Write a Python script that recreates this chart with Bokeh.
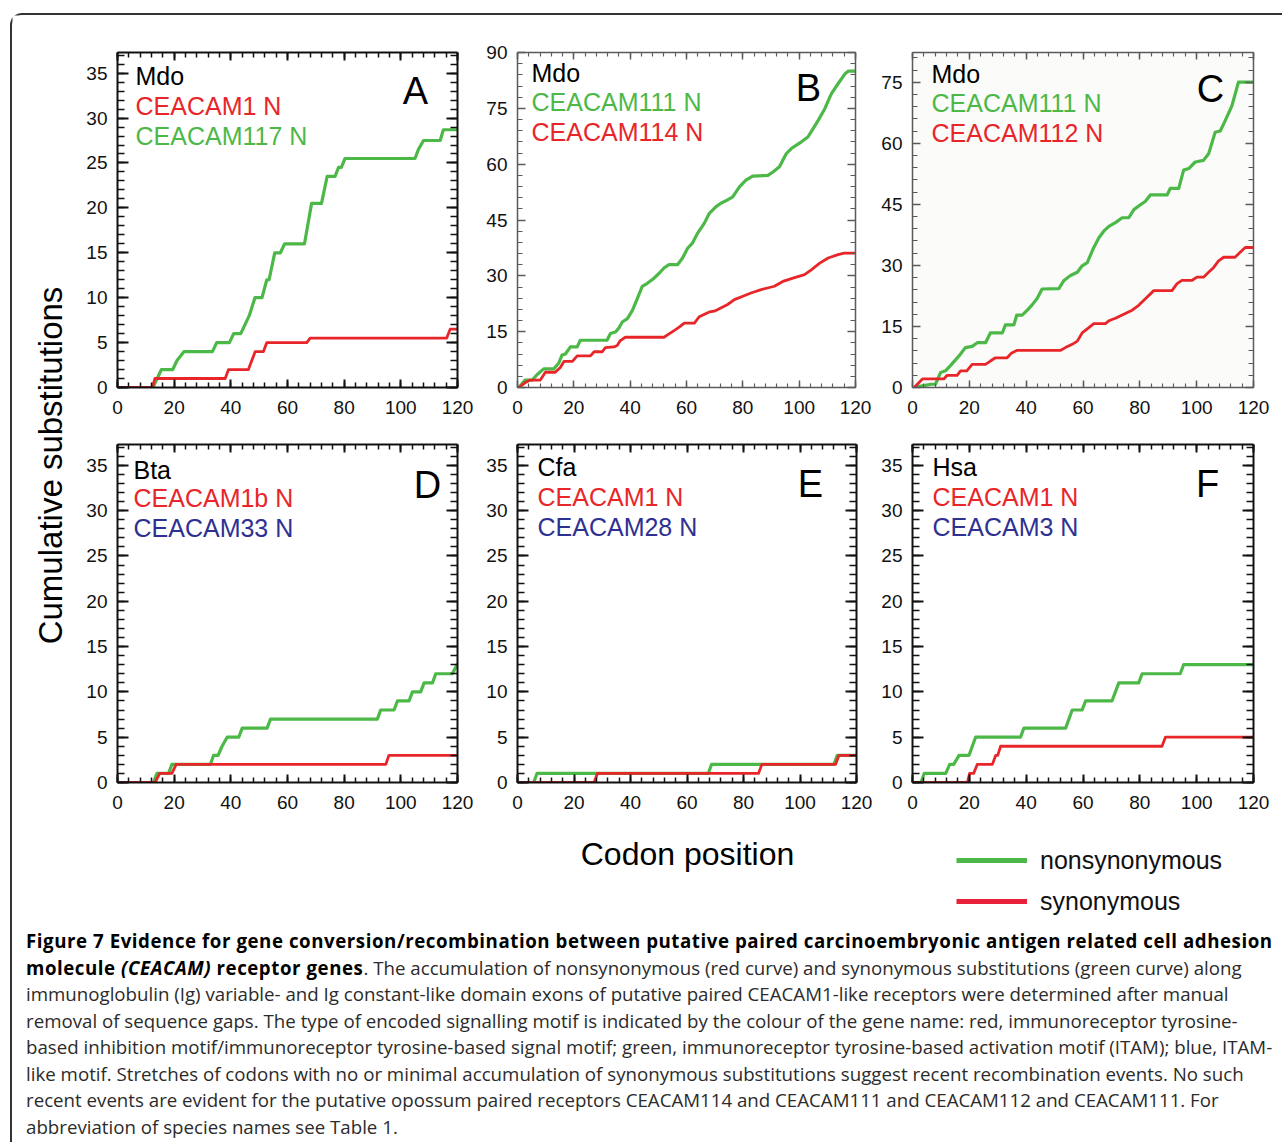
from math import pi
from bokeh.plotting import figure
from bokeh.models import (LinearAxis, SingleIntervalTicker, Range1d, Label,
                          Legend, LegendItem, Div)
from bokeh.layouts import row, column
from bokeh.embed import file_html
from bokeh.resources import INLINE

FONT = "Liberation Sans"
GREEN = "#4cb848"
RED = "#e8262a"
BLUE = "#2e3192"

# ---------------- data (codon position, cumulative substitutions) ----------------
a_green_x = [0, 12.5, 14, 15.5, 19.5, 21, 23.5, 33.5, 35, 39.5, 41, 43.5, 45, 46.5, 48.5, 51,
             52.7, 53.5, 55.5, 57.5, 59, 66, 68.5, 72, 74, 76.8, 78, 79, 80.3, 105, 106.2, 108,
             113.9, 115, 120]
a_green_y = [0, 0, 1, 2, 2, 3, 4, 4, 5, 5, 6, 6, 7, 8, 10, 10, 12, 12, 15, 15, 16, 16, 20.5,
             20.5, 23.5, 23.5, 24.5, 24.5, 25.5, 25.5, 26.5, 27.5, 27.5, 28.7, 28.7]
a_red_x = [0, 12.3, 13.2, 38, 39.2, 46.2, 47.4, 48.6, 51.5, 52.7, 66.8, 68, 116.2, 117.4, 120]
a_red_y = [0, 0, 1, 1, 2, 2, 3, 4, 4, 5, 5, 5.5, 5.5, 6.5, 6.5]

b_green_x = [0.5, 2.7, 5.2, 7, 9.3, 12.9, 14.6, 15.8, 17, 18.8, 21.2, 22.3, 31.8, 33, 34.8, 36,
             37.2, 39, 40.8, 42.5, 44.3, 46.1, 47.9, 50.3, 52, 53.8, 56.8, 58.6, 60.4, 62.1,
             63.9, 66.3, 68.1, 70.5, 72.2, 74.6, 76.4, 78.8, 81.1, 83.5, 88.9, 90.7, 93, 95.4,
             97.2, 100.8, 103.1, 104.9, 106.7, 109.1, 111.4, 113.8, 116.2, 117.5, 120]
b_green_y = [0, 2, 2, 3.5, 5, 5, 6.5, 8.7, 9, 10.9, 10.9, 12.7, 12.7, 14.5, 14.9, 16, 17.6,
             18.5, 20.7, 23.8, 27.2, 28, 29, 30.7, 32.1, 33, 33, 34.8, 37.4, 38.8, 41.4, 44.1,
             46.8, 48.6, 49.5, 50.4, 51.2, 53.9, 55.7, 56.8, 57, 57.9, 59.3, 62.8, 64.2, 66,
             67.3, 69.5, 71.7, 74.9, 78.9, 81.6, 84.2, 85, 85]
b_red_x = [0.5, 2.5, 4.5, 8.1, 9.9, 13.4, 15.2, 16.5, 19.5, 21.2, 25.9, 27.2, 30.1, 31.2, 34.2,
           35.4, 36.5, 38.3, 52, 53.8, 55.6, 57.4, 59.2, 62.8, 64.5, 68.1, 69.9, 74.6, 77, 80,
           82.9, 86.5, 91.2, 94.2, 97.8, 101.9, 104.3, 107.3, 110.3, 113.8, 116, 120]
b_red_y = [0, 1.2, 2, 2, 4.1, 4.1, 5.4, 7, 7, 8.5, 8.5, 9.6, 9.6, 10.7, 10.9, 11.3, 12.6, 13.5,
           13.5, 14.4, 15.3, 16.2, 17.3, 17.3, 19, 20.3, 20.5, 22.3, 23.6, 24.5, 25.4, 26.3,
           27.2, 28.5, 29.4, 30.3, 31.6, 33.4, 34.8, 35.7, 36.1, 36.1]

c_green_x = [0.6, 3.5, 6.5, 8.1, 9.9, 11.6, 13.5, 16.3, 18.6, 21, 22.8, 25.7, 27.4, 31.6, 32.7,
             35.7, 36.7, 38.6, 40.4, 42.1, 43.9, 45.6, 51.5, 53.3, 55.6, 58, 59.7, 61.5, 63.8,
             65.6, 67.3, 69.1, 71.4, 73.8, 76.1, 77.9, 80.2, 81.9, 83.7, 89.6, 90.7, 93.7, 95.4,
             97.2, 99.5, 102.4, 104.2, 106.5, 108.3, 110, 112.4, 114.7, 120]
c_green_y = [0, 0.4, 0.8, 0.85, 3.7, 4.1, 5.5, 7.7, 9.8, 10.1, 11, 11, 13.4, 13.4, 15.4, 15.4,
             17.8, 17.8, 19, 20.3, 21.9, 24.2, 24.3, 26.3, 27.5, 28.3, 29.9, 30.7, 34.4, 36.8,
             38.4, 39.6, 40.5, 41.7, 41.7, 43.7, 44.9, 45.7, 47.3, 47.3, 48.9, 48.9, 53.4, 53.8,
             55.4, 55.8, 57.4, 62.7, 63, 65.5, 69.2, 75, 75]
c_red_x = [0.6, 3.5, 11, 12.2, 15.7, 16.9, 19.1, 21, 25.7, 27.4, 29.2, 33.3, 34.9, 36.7, 52,
           53.8, 56.2, 58, 59.7, 61.5, 63.8, 67.9, 69.1, 71.4, 74.9, 77.3, 79.6, 82.5, 84.9,
           91.3, 93.1, 94.8, 98.3, 100.1, 102.4, 104.2, 106, 107.7, 109.5, 113.5, 115.3, 117.1,
           120]
c_red_y = [0, 2.1, 2.1, 3, 3, 4.1, 4.1, 5.7, 5.7, 6.5, 7.3, 7.3, 8.5, 9.1, 9.1, 9.8, 10.6, 11.4,
           13.4, 14.4, 15.7, 15.7, 16.4, 17, 18.2, 19, 20.2, 22.2, 23.8, 23.8, 25.5, 26.3, 26.3,
           27.1, 27.1, 28.3, 29.5, 31.1, 32, 32, 33.2, 34.4, 34.4]

d_green_x = [0, 12.7, 13.9, 18, 19.2, 32.8, 33.9, 35.5, 36.9, 38.7, 42.8, 44, 52.8, 54, 91.7,
             92.9, 97.6, 98.8, 102.9, 104.1, 107, 108.2, 111.2, 112.3, 118.2, 119.8, 120]
d_green_y = [0, 0, 1, 1, 2, 2, 3, 3, 4, 5, 5, 6, 6, 7, 7, 8, 8, 9, 9, 10, 10, 11, 11, 12, 12,
             13, 13]
d_red_x = [0, 13.3, 14.9, 19.2, 20.7, 94.7, 95.8, 120]
d_red_y = [0, 0, 1, 1, 2, 2, 3, 3]

e_green_x = [0, 5.7, 6.9, 67.5, 68.7, 112, 113.2, 120]
e_green_y = [0, 0, 1, 1, 2, 2, 3, 3]
e_red_x = [0, 27.1, 28.3, 85.3, 86.5, 112.6, 113.8, 120]
e_red_y = [0, 0, 1, 1, 2, 2, 3, 3]

f_green_x = [0.5, 3, 4.1, 11.7, 13.1, 14.5, 16.4, 19.9, 22.2, 38, 39.2, 53.9, 56.2, 59.7, 60.9,
             70.2, 71.4, 72.6, 79.6, 80.8, 94.2, 95.4, 120]
f_green_y = [0, 0, 1, 1, 2, 2, 3, 3, 5, 5, 6, 6, 8, 8, 9, 9, 10, 11, 11, 12, 12, 13, 13]
f_red_x = [0.5, 19.3, 20.1, 21.5, 22.8, 28.1, 29.3, 30, 31, 87.8, 89, 120]
f_red_y = [0, 0, 1, 1, 2, 2, 3, 3, 4, 4, 5, 5]

species = ["Mdo", "Mdo", "Mdo", "Bta", "Cfa", "Hsa"]
gene_labels = [[("CEACAM1 N", RED), ("CEACAM117 N", GREEN)],
               [("CEACAM111 N", GREEN), ("CEACAM114 N", RED)],
               [("CEACAM111 N", GREEN), ("CEACAM112 N", RED)],
               [("CEACAM1b N", RED), ("CEACAM33 N", BLUE)],
               [("CEACAM1 N", RED), ("CEACAM28 N", BLUE)],
               [("CEACAM1 N", RED), ("CEACAM3 N", BLUE)]]
panel_letters = ["A", "B", "C", "D", "E", "F"]
y_max = [37.3, 90, 82.3, 37.3, 37.3, 37.3]
y_tick_step = [5, 15, 15, 5, 5, 5]
x_max = 120
x_tick_step = 20
legend_labels = ["nonsynonymous", "synonymous"]

# ---------------- layout geometry (pixels) ----------------
geo = [
    dict(size=(403, 410), b=(43, 20, 32, 38), tx=18, ty=(28, 58, 88), let=(298, 43), dark=True, bg="white"),
    dict(size=(395, 410), b=(40, 17, 37, 36), tx=14, ty=(22, 51, 81), let=(291, 37), dark=False, bg="white"),
    dict(size=(400, 410), b=(40, 19, 34, 37), tx=19, ty=(25, 54, 84), let=(298, 40), dark=False, bg="#fbfbf9"),
    dict(size=(403, 395), b=(43, 20, 18, 38), tx=16, ty=(26, 54, 84), let=(310, 41), dark=True, bg="white"),
    dict(size=(395, 395), b=(40, 16, 19, 37), tx=20, ty=(23, 53, 83), let=(293, 40), dark=True, bg="white"),
    dict(size=(400, 395), b=(40, 19, 19, 37), tx=20, ty=(23, 53, 83), let=(295, 40), dark=True, bg="white"),
]

series = [(a_green_x, a_green_y, a_red_x, a_red_y),
          (b_green_x, b_green_y, b_red_x, b_red_y),
          (c_green_x, c_green_y, c_red_x, c_red_y),
          (d_green_x, d_green_y, d_red_x, d_red_y),
          (e_green_x, e_green_y, e_red_x, e_red_y),
          (f_green_x, f_green_y, f_red_x, f_red_y)]


def make_panel(i):
    g = geo[i]
    w, h = g["size"]
    bl, br, bt, bb = g["b"]
    p = figure(width=w, height=h, x_range=Range1d(0, x_max), y_range=Range1d(0, y_max[i]),
               x_axis_type=None, y_axis_type=None, output_backend="svg",
               toolbar_location=None, min_border_left=bl, min_border_right=br,
               min_border_top=bt, min_border_bottom=bb, outline_line_color=None)
    p.background_fill_color = g["bg"]
    col = "#111111" if g["dark"] else "#5a5a5a"
    lw = 2 if g["dark"] else 1.5
    xt = SingleIntervalTicker(interval=x_tick_step, num_minor_ticks=5)
    yt = SingleIntervalTicker(interval=y_tick_step[i], num_minor_ticks=5)
    for side in ("below", "above", "left", "right"):
        horiz = side in ("below", "above")
        ax = LinearAxis(ticker=xt if horiz else yt)
        ax.axis_line_color = col
        ax.axis_line_width = lw
        ax.major_tick_line_color = col
        ax.minor_tick_line_color = col
        ax.major_tick_line_width = lw
        ax.minor_tick_line_width = lw * 0.75
        ax.major_tick_out = 0
        ax.minor_tick_out = 0
        if horiz:
            ax.major_tick_in = 8 if g["dark"] else 7
            ax.minor_tick_in = 5 if g["dark"] else 4
        else:
            ax.major_tick_in = 11 if g["dark"] else 8
            ax.minor_tick_in = 7 if g["dark"] else 5
        if side in ("below", "left"):
            ax.major_label_text_font = FONT
            ax.major_label_text_font_size = "19px"
            ax.major_label_text_color = "#111111"
            ax.major_label_standoff = 13 if horiz else 10
        else:
            ax.major_label_text_color = None
            ax.major_label_text_font_size = "1px"
            ax.major_label_standoff = 0
        p.add_layout(ax, side)

    gx, gy, rx, ry = series[i]
    p.line(gx, gy, line_color=GREEN, line_width=3.2, line_join="round")
    p.line(rx, ry, line_color=RED, line_width=2.8, line_join="round")

    fh = h - bt - bb
    texts = [(species[i], "#000000")] + gene_labels[i]
    for (t, c), dy in zip(texts, g["ty"]):
        p.add_layout(Label(x=g["tx"], y=fh - dy, x_units="screen", y_units="screen", text=t,
                           text_color=c, text_font=FONT, text_font_size="25px",
                           text_baseline="middle", text_align="left"))
    lx, ly = g["let"]
    p.add_layout(Label(x=lx, y=fh - ly, x_units="screen", y_units="screen",
                       text=panel_letters[i], text_font=FONT, text_font_size="38px",
                       text_baseline="middle", text_align="center", text_color="#000000"))
    return p


panels = [make_panel(i) for i in range(6)]

# y axis title
yl = figure(width=62, height=805, x_range=Range1d(0, 62), y_range=Range1d(0, 805),
            x_axis_type=None, y_axis_type=None, min_border=0, toolbar_location=None,
            output_backend="svg", outline_line_color=None)
yl.add_layout(Label(x=38, y=355, text="Cumulative substitutions", angle=pi / 2,
                    text_align="center", text_baseline="middle", text_font=FONT,
                    text_font_size="33px", text_color="#000000"))

# x axis title + legend
bf = figure(width=1260, height=103, x_range=Range1d(0, 1260), y_range=Range1d(0, 103),
            x_axis_type=None, y_axis_type=None, min_border=0, toolbar_location=None,
            output_backend="svg", outline_line_color=None)
bf.add_layout(Label(x=675, y=70, text="Codon position", text_align="center",
                    text_baseline="middle", text_font=FONT, text_font_size="32px",
                    text_color="#000000"))
nan = float("nan")
rg = bf.line([nan], [nan], line_color=GREEN, line_width=5)
rr = bf.line([nan], [nan], line_color="#e8203a", line_width=5)
leg = Legend(items=[LegendItem(label=legend_labels[0], renderers=[rg]),
                    LegendItem(label=legend_labels[1], renderers=[rr])],
             location=(944, 7), glyph_width=71, glyph_height=30, label_height=30,
             spacing=11, padding=0, margin=0, label_standoff=13,
             border_line_color=None, background_fill_alpha=0,
             label_text_font=FONT, label_text_font_size="25px", label_text_color="#111111")
bf.add_layout(leg)

caption_html = (
    '<div style="padding-left:9px;">'
    '<b style="color:#000;letter-spacing:0.55px">Figure 7 Evidence for gene conversion/recombination between putative paired '
    'carcinoembryonic antigen related cell adhesion<br>molecule <i>(CEACAM)</i> receptor genes</b>. '
    'The accumulation of nonsynonymous (red curve) and synonymous substitutions (green curve) along<br>'
    'immunoglobulin (Ig) variable- and Ig constant-like domain exons of putative paired CEACAM1-like '
    'receptors were determined after manual<br>'
    'removal of sequence gaps. The type of encoded signalling motif is indicated by the colour of the '
    'gene name: red, immunoreceptor tyrosine-<br>'
    'based inhibition motif/immunoreceptor tyrosine-based signal motif; green, immunoreceptor '
    'tyrosine-based activation motif (ITAM); blue, ITAM-<br>'
    'like motif. Stretches of codons with no or minimal accumulation of synonymous substitutions '
    'suggest recent recombination events. No such<br>'
    'recent events are evident for the putative opossum paired receptors CEACAM114 and CEACAM111 '
    'and CEACAM112 and CEACAM111. For<br>'
    'abbreviation of species names see Table 1.</div>')
caption = Div(text=caption_html, width=1260, height=218,
              styles={"font-family": "'Open Sans'", "font-size": "18.7px",
                      "line-height": "26.5px", "color": "#2b2b2b", "overflow": "hidden",
                      "white-space": "nowrap"})

grid = column(row(panels[0], panels[1], panels[2]), row(panels[3], panels[4], panels[5]))
layout = column(row(yl, grid), bf, caption, margin=(13, 0, 0, 10),
                styles={"border-left": "2px solid #333", "border-top": "2px solid #333",
                        "border-top-left-radius": "12px"})

open("out.html", "w").write(file_html(layout, INLINE))
